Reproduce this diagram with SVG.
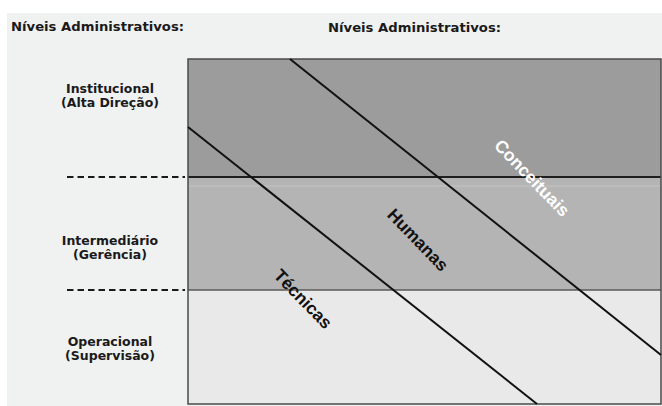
<svg xmlns="http://www.w3.org/2000/svg" width="662" height="406" viewBox="0 0 662 406">
  <style>
    .hdr { font-family: "DejaVu Sans", Verdana, sans-serif; font-weight: bold; font-size: 12.5px; fill: #1a1a1a; }
    .lvl { font-family: "DejaVu Sans", Verdana, sans-serif; font-weight: bold; font-size: 12.5px; fill: #1a1a1a; text-anchor: middle; }
    .skill { font-family: "Liberation Sans", Arial, sans-serif; font-weight: bold; font-size: 17.5px; text-anchor: middle; }
    .dash { stroke: #1a1a1a; stroke-width: 2.2; stroke-dasharray: 6.5 4; fill: none; }
    .diag { stroke: #111; stroke-width: 2; fill: none; }
  </style>
  <rect x="0" y="0" width="662" height="406" fill="#ffffff"/>
  <rect x="7" y="13" width="655" height="393" fill="#f0f1f1"/>

  <g id="headers">
    <text class="hdr" x="11" y="31" textLength="173" lengthAdjust="spacingAndGlyphs">Níveis Administrativos:</text>
    <text class="hdr" x="328" y="32" textLength="173" lengthAdjust="spacingAndGlyphs">Níveis Administrativos:</text>
  </g>

  <g id="chart">
    <rect x="188" y="59" width="473" height="118" fill="#9c9c9c"/>
    <rect x="188" y="177" width="473" height="113" fill="#b4b4b4"/>
    <rect x="188" y="290" width="473" height="114" fill="#e9e9e9"/>
    <line x1="188" y1="186" x2="661" y2="186" stroke="#c4c4c4" stroke-width="1"/>
    <line x1="188" y1="177" x2="661" y2="177" stroke="#1e1e1e" stroke-width="2"/>
    <line x1="188" y1="290" x2="661" y2="290" stroke="#5a5a5a" stroke-width="1.5"/>
    <rect x="188" y="59" width="473" height="345" fill="none" stroke="#4a4a4a" stroke-width="1.5"/>
  </g>

  <g id="level-institucional">
    <text class="lvl" x="110" y="93">Institucional</text>
    <text class="lvl" x="110" y="107">(Alta Direção)</text>
  </g>
  <g id="level-intermediario">
    <text class="lvl" x="110" y="245">Intermediário</text>
    <text class="lvl" x="110" y="259">(Gerência)</text>
  </g>
  <g id="level-operacional">
    <text class="lvl" x="110" y="346">Operacional</text>
    <text class="lvl" x="110" y="360">(Supervisão)</text>
  </g>

  <g id="connectors">
    <line class="dash" x1="67" y1="177" x2="185" y2="177"/>
    <line class="dash" x1="67" y1="290" x2="185" y2="290"/>
    <line class="diag" x1="188" y1="127" x2="537" y2="404"/>
    <line class="diag" x1="290" y1="59" x2="661" y2="355"/>
  </g>

  <g id="skill-conceituais">
    <text class="skill" fill="#ffffff" transform="translate(532,178) rotate(46)" x="0" y="6">Conceituais</text>
  </g>
  <g id="skill-humanas">
    <text class="skill" fill="#111111" transform="translate(418,240) rotate(46)" x="0" y="6">Humanas</text>
  </g>
  <g id="skill-tecnicas">
    <text class="skill" fill="#111111" transform="translate(303,299) rotate(46)" x="0" y="6">Técnicas</text>
  </g>
</svg>
